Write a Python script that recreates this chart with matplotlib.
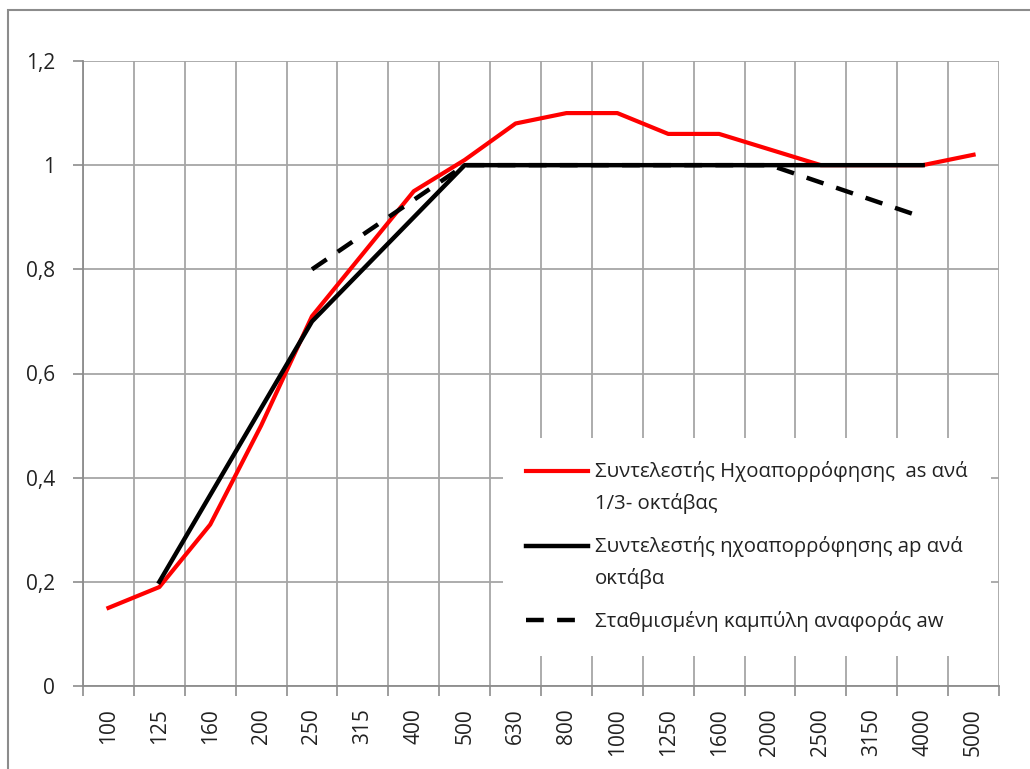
import numpy as np
import matplotlib.pyplot as plt
from matplotlib.patches import Rectangle

plt.rcParams['font.family'] = ['Open Sans', 'DejaVu Sans']

freqs = ['100', '125', '160', '200', '250', '315', '400', '500', '630',
         '800', '1000', '1250', '1600', '2000', '2500', '3150', '4000', '5000']
# 1/3 octave absorption coefficient
a_s = [0.15, 0.19, 0.31, 0.50, 0.71, 0.83, 0.95, 1.01, 1.08,
       1.10, 1.10, 1.06, 1.06, 1.03, 1.00, 1.00, 1.00, 1.02]
# octave values
oct_freqs = ['125', '250', '500', '1000', '2000', '4000']
a_p = [0.20, 0.70, 1.00, 1.00, 1.00, 1.00]
# shifted reference curve
a_w = [np.nan, 0.80, 1.00, 1.00, 1.00, 0.90]

labels = ['Συντελεστής Ηχοαπορρόφησης  as ανά\n1/3- οκτάβας',
          'Συντελεστής ηχοαπορρόφησης ap ανά\nοκτάβα',
          'Σταθμισμένη καμπύλη αναφοράς aw']

x = np.arange(len(freqs))
x_oct = [freqs.index(f) for f in oct_freqs]

fig = plt.figure(figsize=(10.30, 7.69), dpi=100)
ax = fig.add_axes([83/1030, 1 - 686/769, (999-83)/1030, (686-61)/769])

# outer chart border
fig.patches.append(Rectangle((8/1030, -0.1), 1.2, 1 - 10/769 + 0.1, transform=fig.transFigure,
                             fill=False, edgecolor='#8c8c8c', lw=1.5))

ax.plot(x, a_s, color='#ff0000', lw=3, zorder=3, label=labels[0])
ax.plot(x_oct, a_p, color='black', lw=3.2, zorder=4, label=labels[1])
ax.plot(x_oct, a_w, color='black', lw=3.2, ls=(0, (4, 3)), zorder=5, label=labels[2])

ax.set_xlim(-0.5, len(freqs) - 0.5)
ax.set_ylim(0, 1.2)
ax.set_xticks(x)
ax.set_xticklabels(freqs, rotation=90, fontsize=15, color='#222222')
ax.set_xticks(np.arange(-0.5, len(freqs)), minor=True)
ax.tick_params(axis='x', which='major', length=0, pad=16)
ax.tick_params(axis='x', which='minor', length=7, color='#8c8c8c', width=1.2)

yt = [0, 0.2, 0.4, 0.6, 0.8, 1.0, 1.2]
ax.set_yticks(yt)
ax.set_yticklabels(['0', '0,2', '0,4', '0,6', '0,8', '1', '1,2'], fontsize=15, color='#222222')
ax.tick_params(axis='y', length=7, color='#8c8c8c', width=1.2, pad=13)

ax.grid(True, axis='y', color='#a6a6a6', lw=1.3)
ax.grid(True, axis='x', which='minor', color='#a6a6a6', lw=1.3)
ax.set_axisbelow(True)
for s in ['top', 'right']:
    ax.spines[s].set_visible(False)
for s in ['left', 'bottom']:
    ax.spines[s].set_color('#8c8c8c')
    ax.spines[s].set_linewidth(1.3)

leg = ax.legend(loc='upper left', bbox_to_anchor=(0.4585, 0.397), borderaxespad=0,
                fontsize=14.7, frameon=True, fancybox=False, facecolor='white',
                edgecolor='none', framealpha=1, handlelength=3.0, handletextpad=0.35,
                labelspacing=1.1, borderpad=1.15)
for t in leg.get_texts():
    t.set_color('#222222')
    t.set_linespacing(1.65)
# put the handles level with the first line of two-line labels
for h in leg.legend_handles[:2]:
    h.set_ydata(np.asarray(h.get_ydata()) + 12)

fig.savefig('out.png', dpi=100)
